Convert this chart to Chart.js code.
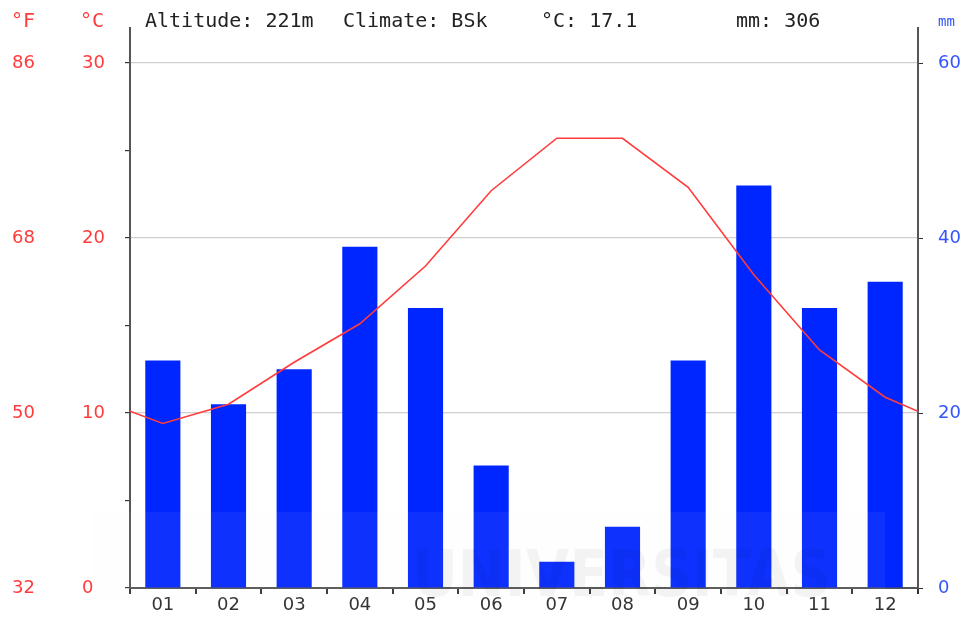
<!DOCTYPE html>
<html><head><meta charset="utf-8">
<script src="https://cdn.jsdelivr.net/npm/chart.js@4"></script>
<style>html,body{margin:0;padding:0;background:#fff}#wrap{width:964px;height:620px}</style>
</head><body><div id="wrap"><canvas id="c" width="964" height="620"></canvas></div>
<script>
const months = ['01','02','03','04','05','06','07','08','09','10','11','12'];
const precipitation = [26, 21, 25, 39, 32, 14, 3, 7, 26, 46, 32, 35];
const temperature = [9.4, 10.5, 12.9, 15.1, 18.4, 22.7, 25.7, 25.7, 22.9, 17.9, 13.6, 10.9];
const edgeTemp = 10.1; // value where the line meets both axes
const tempTicksC = [0, 5, 10, 15, 20, 25, 30];
const tempLabelsC = [0, 10, 20, 30];
const tempTicksF = [32, 50, 68, 86];
const precipTicks = [0, 20, 40, 60];
const altitudeText = 'Altitude: 221m';
const climateText = 'Climate: BSk';
const meanTempText = '°C: 17.1';
const totalPrecipText = 'mm: 306';

const RED = '#ff3b3b';
const BLUE = '#3355ff';
const tickFont = {family: 'DejaVu Sans', size: 18};

const linePoints = [{x: 0, y: edgeTemp}]
  .concat(temperature.map((t, i) => ({x: i + 0.5, y: t})))
  .concat([{x: 12, y: edgeTemp}]);

const overlay = {
  id: 'overlay',
  afterDatasetsDraw(chart) {
    const ctx = chart.ctx;
    ctx.save();
    ctx.fillStyle = 'rgba(235,235,235,0.06)';
    ctx.fillRect(92, 512, 793, 88);
    ctx.fillStyle = 'rgba(0,0,0,0.045)';
    ctx.font = 'bold 64px "DejaVu Sans"';
    ctx.textBaseline = 'alphabetic';
    ctx.save();
    ctx.translate(412, 596);
    ctx.scale(0.88, 1);
    ctx.fillText('UNIVERSITAS', 0, 0);
    ctx.restore();
    ctx.restore();
  },
  afterDraw(chart) {
    const ctx = chart.ctx;
    ctx.save();
    ctx.textBaseline = 'alphabetic';
    ctx.font = '20px "DejaVu Sans Mono"';
    ctx.fillStyle = '#222';
    ctx.fillText(altitudeText, 145, 27);
    ctx.fillText(climateText, 343, 27);
    ctx.fillText(meanTempText, 541, 27);
    ctx.fillText(totalPrecipText, 736, 27);
    ctx.fillStyle = RED;
    ctx.fillText('°F', 11, 27);
    ctx.fillText('°C', 80, 27);
    ctx.fillStyle = BLUE;
    ctx.font = '14px "DejaVu Sans Mono"';
    ctx.fillText('mm', 938, 26);
    ctx.restore();
  }
};

new Chart(document.getElementById('c'), {
  type: 'bar',
  data: {
    labels: months,
    datasets: [
      {
        type: 'line', data: linePoints, xAxisID: 'x2', yAxisID: 'yT',
        borderColor: RED, borderWidth: 1.6, pointRadius: 0, tension: 0, order: 0
      },
      {
        type: 'bar', data: precipitation, xAxisID: 'x', yAxisID: 'yP',
        backgroundColor: '#0026ff', borderWidth: 0, grouped: false,
        barPercentage: 0.535, categoryPercentage: 1, order: 1
      }
    ]
  },
  options: {
    responsive: false, animation: false, devicePixelRatio: 1,
    layout: {padding: {left: 12, right: 0, top: 28, bottom: 0}},
    plugins: {legend: {display: false}, tooltip: {enabled: false}},
    scales: {
      x: {
        type: 'category', offset: true,
        grid: {offset: true, drawOnChartArea: false, drawTicks: true, tickLength: 6, tickColor: '#333', lineWidth: 2},
        border: {color: '#555', width: 2},
        ticks: {color: '#333', font: tickFont, padding: 1, maxRotation: 0},
        afterFit(s) { s.height = 32; }
      },
      x2: {type: 'linear', min: 0, max: 12, offset: false, display: false},
      yT: {
        position: 'left', min: 0, max: 32, weight: 0,
        afterBuildTicks(s) { s.ticks = tempTicksC.map(v => ({value: v})); },
        grid: {
          color: c => (c.tick && tempLabelsC.includes(c.tick.value) && c.tick.value > 0) ? '#cfcfcf' : 'rgba(0,0,0,0)',
          tickColor: '#333', tickLength: 5, lineWidth: 1.2
        },
        border: {color: '#555', width: 2},
        ticks: {crossAlign: 'far', color: RED, font: tickFont, callback: v => tempLabelsC.includes(v) ? String(v) : ''},
        afterFit(s) { s.width = 48; }
      },
      yF: {
        position: 'left', min: 32, max: 89.6, weight: 1,
        afterBuildTicks(s) { s.ticks = tempTicksF.map(v => ({value: v})); },
        grid: {display: false}, border: {display: false},
        ticks: {crossAlign: 'far', color: RED, font: tickFont},
        afterFit(s) { s.width = 70; }
      },
      yP: {
        position: 'right', min: 0, max: 64,
        afterBuildTicks(s) { s.ticks = precipTicks.map(v => ({value: v})); },
        grid: {drawOnChartArea: false, tickColor: '#333', tickLength: 5},
        border: {color: '#555', width: 2},
        ticks: {color: BLUE, font: tickFont, padding: 15},
        afterFit(s) { s.width = 46; }
      }
    }
  },
  plugins: [overlay]
});
</script>
</body></html>
